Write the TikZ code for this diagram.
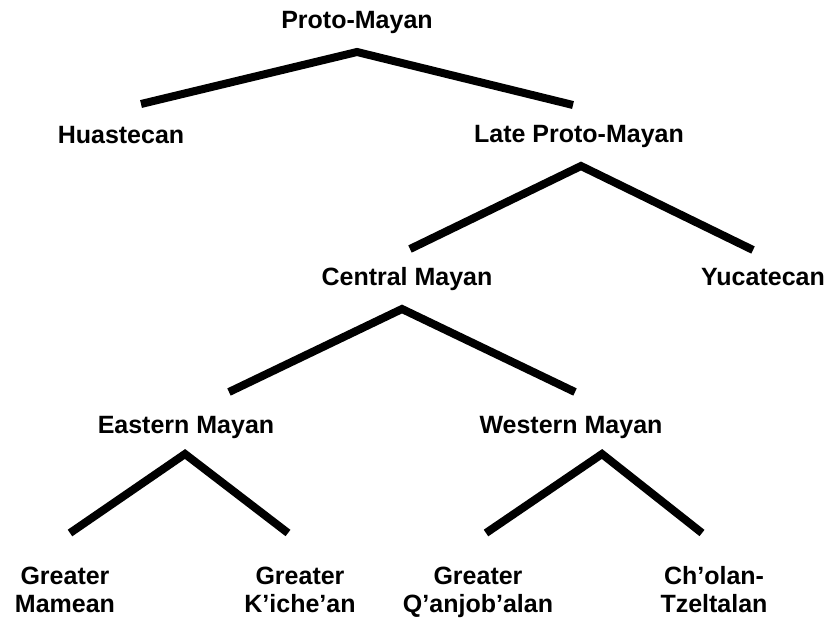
\documentclass[tikz,border=0pt]{standalone}
\usepackage{fontspec}
\setmainfont{Liberation Sans}
\usepackage{tikz}
\usetikzlibrary{positioning, calc}

\begin{document}
\begin{tikzpicture}[x=0.75pt, y=-0.75pt,
    lang/.style={anchor=base, inner sep=0pt, align=center,
      font=\fontsize{18.75}{21}\selectfont\bfseries},
    branch/.style={line width=6pt, line join=miter}]
      \useasboundingbox (0,0) rectangle (831,621);
      % family names
      \node[lang] (proto) at (357,28) {Proto-Mayan};
      \node[lang] (huast) at (121,143) {Huastecan};
      \node[lang] (late) at (579,142) {Late Proto-Mayan};
      \node[lang] (central) at (407,285) {Central Mayan};
      \node[lang] (yuc) at (763,285) {Yucatecan};
      \node[lang] (eastern) at (186,433) {Eastern Mayan};
      \node[lang] (western) at (571,433) {Western Mayan};
      % two-line names, base is the lower line
      \node[lang] (mamean) at (65,612) {Greater\\Mamean};
      \node[lang] (kiche) at (300,612) {Greater\\K’iche’an};
      \node[lang] (qanjob) at (478,612) {Greater\\Q’anjob’alan};
      \node[lang] (cholan) at (714,612) {Ch’olan-\\Tzeltalan};
      % branches
      \draw[branch] ($(huast.base)+(20,-39)$) -- ($(proto.base)+(0,24)$) -- ($(late.base)+(-6,-37)$);
      \draw[branch] ($(central.base)+(3,-36)$) -- ($(late.base)+(2,24)$) -- ($(yuc.base)+(-10,-35)$);
      \draw[branch] ($(eastern.base)+(43,-41)$) -- ($(central.base)+(-5,24)$) -- ($(western.base)+(4,-41)$);
      \draw[branch] ($(mamean.base)+(5,-79)$) -- ($(eastern.base)+(-1,21)$) -- ($(kiche.base)+(-12,-79)$);
      \draw[branch] ($(qanjob.base)+(8,-79)$) -- ($(western.base)+(31,21)$) -- ($(cholan.base)+(-12,-79)$);
    \end{tikzpicture}
\end{document}
